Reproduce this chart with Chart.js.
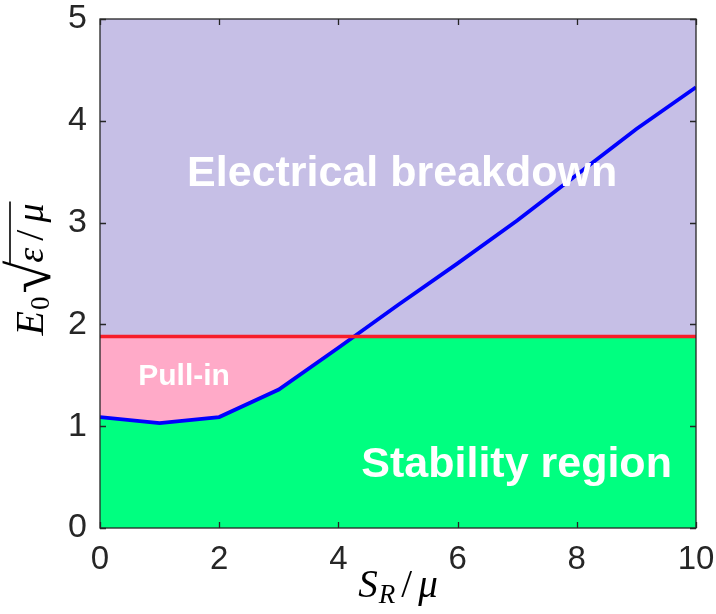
<!DOCTYPE html>
<html>
<head>
<meta charset="utf-8">
<script src="https://cdn.jsdelivr.net/npm/chart.js@4.4.0/dist/chart.umd.min.js"></script>
<style>
  html, body { margin: 0; padding: 0; background: #fff; }
  #wrap { width: 716px; height: 614px; }
</style>
</head>
<body>
<div id="wrap"><canvas id="phaseChart" width="716" height="614"></canvas></div>
<script>
// ---------- Data ----------
const sR = [0, 1, 2, 3, 4, 5, 6, 7, 8, 9, 10];
const pullInField = [1.09, 1.03, 1.09, 1.36, 1.77, 2.19, 2.60, 3.02, 3.47, 3.92, 4.33];
const breakdownField = [1.88, 1.88, 1.88, 1.88, 1.88, 1.88, 1.88, 1.88, 1.88, 1.88, 1.88];
const xTicks = [0, 2, 4, 6, 8, 10];
const yTicks = [0, 1, 2, 3, 4, 5];

// ---------- Colours ----------
const PURPLE = "#c6bfe6";
const PINK = "#ffaac8";
const GREEN = "#00ff80";
const AXIS = "#262626";

// region labels (data coords)
const regionLabels = [
  { text: "Electrical breakdown", x: 5.07, y: 3.36, size: 43 },
  { text: "Stability region", x: 6.99, y: 0.50, size: 43 },
  { text: "Pull-in", x: 1.41, y: 1.40, size: 30 }
];

// ---------- Plugins ----------
const areaBg = {
  id: "areaBg",
  beforeDraw(chart) {
    const { ctx, chartArea: a } = chart;
    ctx.save();
    ctx.fillStyle = PURPLE;
    ctx.fillRect(a.left, a.top, a.right - a.left, a.bottom - a.top);
    ctx.restore();
  }
};

// draws runs of text [{t, font, dy}] centred on x
function drawRuns(ctx, runs, cx, baseY) {
  let total = 0;
  runs.forEach(r => { ctx.font = r.font; r.w = ctx.measureText(r.t).width; total += r.w + (r.gap || 0); });
  let x = cx - total / 2;
  runs.forEach(r => {
    ctx.font = r.font;
    ctx.fillText(r.t, x, baseY + (r.dy || 0));
    r.x0 = x;
    x += r.w + (r.gap || 0);
    r.x1 = x;
  });
  return runs;
}

const decorations = {
  id: "decorations",
  afterDatasetsDraw(chart) {
    const { ctx, chartArea: a, scales } = chart;
    const xs = scales.x, ys = scales.y;
    ctx.save();

    // region labels
    ctx.fillStyle = "#ffffff";
    ctx.textAlign = "center";
    ctx.textBaseline = "alphabetic";
    regionLabels.forEach(l => {
      ctx.font = "bold " + l.size + "px 'Liberation Sans', Arial, sans-serif";
      ctx.fillText(l.text, xs.getPixelForValue(l.x), ys.getPixelForValue(l.y));
    });

    // box + inward ticks
    ctx.strokeStyle = AXIS;
    ctx.lineWidth = 1.3;
    ctx.strokeRect(a.left, a.top, a.right - a.left, a.bottom - a.top);
    ctx.beginPath();
    const tl = 6;
    xTicks.forEach(v => {
      const px = Math.round(xs.getPixelForValue(v)) + 0.5;
      ctx.moveTo(px, a.bottom); ctx.lineTo(px, a.bottom - tl);
      ctx.moveTo(px, a.top); ctx.lineTo(px, a.top + tl);
    });
    yTicks.forEach(v => {
      const py = Math.round(ys.getPixelForValue(v)) + 0.5;
      ctx.moveTo(a.left, py); ctx.lineTo(a.left + tl, py);
      ctx.moveTo(a.right, py); ctx.lineTo(a.right - tl, py);
    });
    ctx.stroke();

    // axis titles
    ctx.fillStyle = "#000";
    ctx.textAlign = "left";
    const serif = "'Liberation Serif', 'Times New Roman', serif";
    drawRuns(ctx, [
      { t: "S", font: "italic 39px " + serif, gap: 1 },
      { t: "R", font: "italic 27px " + serif, dy: 6, gap: 6 },
      { t: "/", font: "39px " + serif, gap: 6 },
      { t: "\u03bc", font: "italic 39px " + serif }
    ], (a.left + a.right) / 2, 597);

    ctx.save();
    ctx.translate(43, (a.top + a.bottom) / 2 - 4);
    ctx.rotate(-Math.PI / 2);
    const runs = drawRuns(ctx, [
      { t: "E", font: "italic 40px " + serif, gap: 1 },
      { t: "0", font: "27px " + serif, dy: 6, gap: 3 },
      { t: "\u221a", font: "60px " + serif, dy: 7, gap: -2 },
      { t: "\u03b5", font: "italic 38px " + serif, gap: 7 },
      { t: "/", font: "40px " + serif, gap: 7 },
      { t: "\u03bc", font: "italic 38px " + serif }
    ], 0, 0);
    ctx.strokeStyle = "#000";
    ctx.lineWidth = 1.6;
    ctx.beginPath();
    ctx.moveTo(runs[2].x1 - 2, -33);
    ctx.lineTo(runs[5].x1 + 2, -33);
    ctx.stroke();
    ctx.restore();

    ctx.restore();
  }
};

// ---------- Chart ----------
new Chart(document.getElementById("phaseChart"), {
  type: "line",
  data: {
    datasets: [
      {
        label: "Breakdown",
        data: sR.map((x, i) => ({ x, y: breakdownField[i] })),
        borderColor: "#f71e2a",
        borderWidth: 3.5,
        pointRadius: 0,
        fill: { target: 1, above: PINK, below: PURPLE }
      },
      {
        label: "Pull-in",
        data: sR.map((x, i) => ({ x, y: pullInField[i] })),
        borderColor: "#0000ff",
        borderWidth: 3.8,
        pointRadius: 0,
        fill: { target: "origin", above: GREEN }
      }
    ]
  },
  options: {
    responsive: false,
    animation: false,
    layout: { padding: { top: 19, right: 20, left: 0, bottom: 0 } },
    plugins: {
      legend: { display: false },
      tooltip: { enabled: false },
      filler: { drawTime: "beforeDatasetsDraw" }
    },
    scales: {
      x: {
        type: "linear",
        min: 0, max: 10,
        afterBuildTicks: s => { s.ticks = xTicks.map(v => ({ value: v })); },
        afterFit: s => { s.height = 86; s.paddingLeft = 0; s.paddingRight = 0; },
        grid: { display: false, drawTicks: false },
        border: { display: false },
        ticks: { color: AXIS, padding: 12, maxRotation: 0,
          font: { family: "'Liberation Sans', Arial, sans-serif", size: 33 } }
      },
      y: {
        type: "linear",
        min: 0, max: 5,
        afterBuildTicks: s => { s.ticks = yTicks.map(v => ({ value: v })); },
        afterFit: s => { s.width = 100; s.paddingTop = 0; s.paddingBottom = 0; },
        grid: { display: false, drawTicks: false },
        border: { display: false },
        ticks: { color: AXIS, padding: 13,
          font: { family: "'Liberation Sans', Arial, sans-serif", size: 34 } }
      }
    }
  },
  plugins: [areaBg, decorations]
});
</script>
</body>
</html>
